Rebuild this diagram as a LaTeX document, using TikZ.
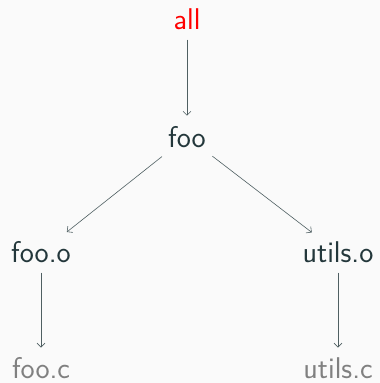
\documentclass[tikz,border=0pt]{standalone}
\usetikzlibrary{arrows.meta}
\definecolor{mDarkTeal}{HTML}{23373B}
\definecolor{mBg}{HTML}{FAFAFA}
\definecolor{leafgray}{HTML}{808080}
\begin{document}
\begin{tikzpicture}[x=1pt,y=1pt,
  lbl/.style={font=\fontsize{30}{36}\selectfont\sffamily, inner sep=0pt, text=mDarkTeal},
  goal/.style={lbl, text=red},
  leaf/.style={lbl, text=leafgray},
  dep/.style={draw=mDarkTeal!80, line width=0.6pt, -{Straight Barb[length=4pt,width=8pt]}},
  vert/.style={dep, shorten <=20pt, shorten >=21pt},
  diag/.style={dep, shorten <=32pt, shorten >=33pt}]
  \fill[mBg] (0,0) rectangle (380,-383);
  \useasboundingbox (0,0) rectangle (380,-383);
  % targets
  \node[goal] (all)    at (187,-19.7) {all};
  \node[lbl]  (foo)    at (187,-136.7) {foo};
  \node[lbl]  (fooo)   at (41,-252.5) {foo.o};
  \node[lbl]  (utilso) at (338,-252.5) {utils.o};
  \node[leaf] (fooc)   at (41,-368.5) {foo.c};
  \node[leaf] (utilsc) at (338,-368.5) {utils.c};
  % dependencies
  \draw[vert] (all.center) -- (foo.center);
  \draw[diag] (foo.center) -- (fooo.center);
  \draw[diag] (foo.center) -- (utilso.center);
  \draw[vert] (fooo.center) -- (fooc.center);
  \draw[vert] (utilso.center) -- (utilsc.center);
\end{tikzpicture}
\end{document}
